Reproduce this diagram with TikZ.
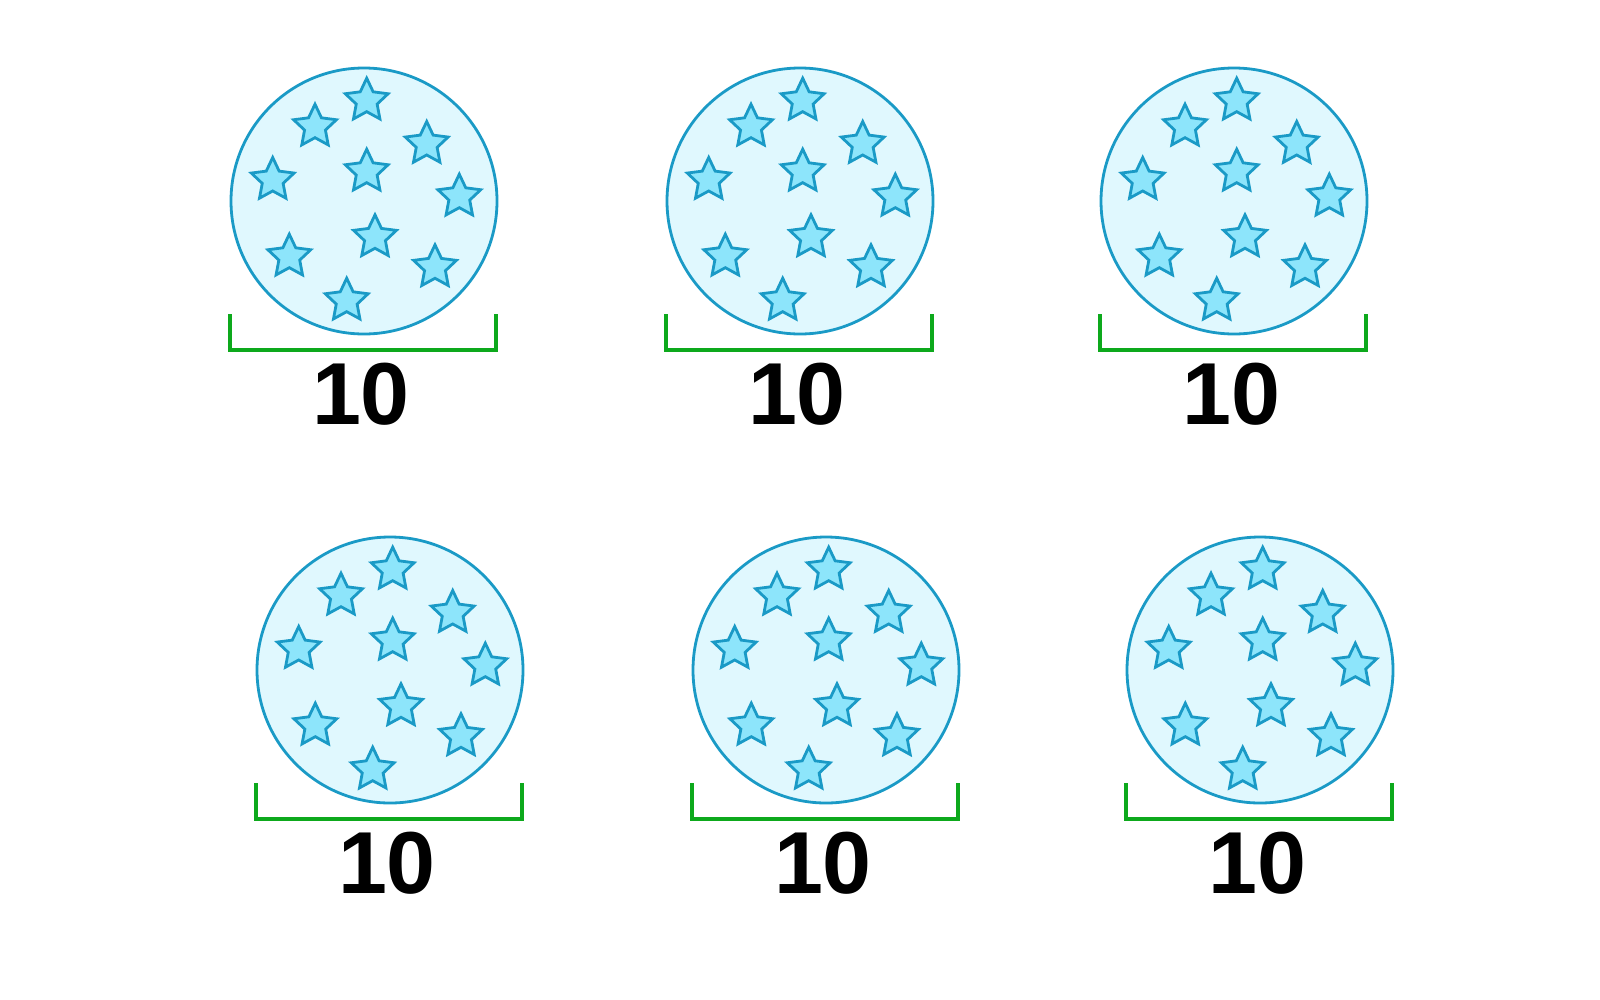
\documentclass[tikz,border=0pt]{standalone}
\usepackage{fontspec}
\setmainfont{Liberation Sans}
\usetikzlibrary{shapes.geometric}
\definecolor{circfill}{HTML}{E0F8FE}
\definecolor{bluestroke}{HTML}{1A9AC6}
\definecolor{starfill}{HTML}{8DE5FB}
\definecolor{bracketgreen}{HTML}{0DA91C}
\tikzset{
  jar/.style={circle, draw=bluestroke, fill=circfill, line width=2.8pt, minimum size=266pt, inner sep=0pt},
  starshape/.style={star, star points=5, star point ratio=2.05, draw=bluestroke, fill=starfill, line width=2.8pt, minimum size=45pt, inner sep=0pt},
  bracket/.style={draw=bracketgreen, line width=4.5pt},
  countlabel/.style={font=\bfseries\fontsize{88}{88}\selectfont, inner sep=0pt, text=black}
}
\begin{document}
\begin{tikzpicture}[x=1pt, y=-1pt]
\useasboundingbox (0,0) rectangle (1600,999);
\fill[white] (0,0) rectangle (1600,999);
\foreach \cx/\cy/\n in {364/201/1, 800/201/2, 1234/201/3, 390/670/4, 826/670/5, 1260/670/6}{
  \node[jar] (jar\n) at (\cx,\cy) {};
  \foreach \dx/\dy [count=\k] in {2.7/-100.3, -49/-74.3, 62.7/-57, -91.3/-21, 2.7/-29.3, 95.3/-4.3, 11/36.3, -74.7/55.7, 71/66.3, -17.3/99.7}{
    \node[starshape] (star\n-\k) at (\cx+\dx,\cy+\dy) {};
  }
  \coordinate (bl\n) at (\cx-134,\cy+113);
  \coordinate (br\n) at (\cx+132,\cy+113);
  \draw[bracket] (bl\n) -- ++(0,36) -| (br\n);
  \node[countlabel] (num\n) at (\cx-3,\cy+193.5) {10};
}
\end{tikzpicture}
\end{document}
